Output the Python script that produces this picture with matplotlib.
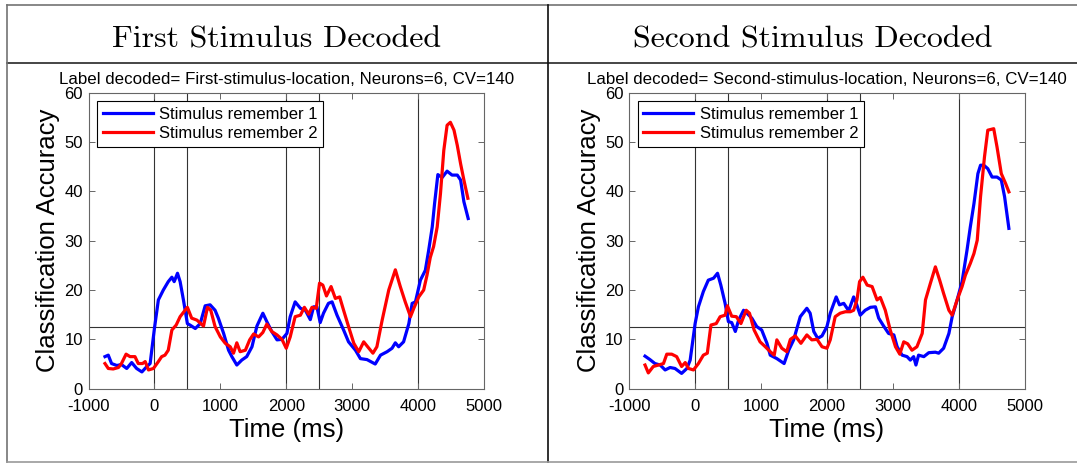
import matplotlib
matplotlib.use('Agg')
import matplotlib.pyplot as plt
from matplotlib.lines import Line2D

# --- data (time in ms, accuracy in %) ---
headers = ['First Stimulus Decoded', 'Second Stimulus Decoded']
subtitles = ['Label decoded= First-stimulus-location, Neurons=6, CV=140',
             'Label decoded= Second-stimulus-location, Neurons=6, CV=140']
series_labels = ['Stimulus remember 1', 'Stimulus remember 2']
event_times = [0, 500, 2000, 2500, 4000]
chance_level = 12.5

t_first_s1 = [-750, -700, -650, -570, -500, -420, -345, -270, -190, -115, -65, 0, 60, 135, 210, 265, 300, 350, 390,
              440, 500, 540, 620, 695, 770, 845, 920, 970, 1050, 1125, 1175, 1250, 1325, 1400, 1480, 1555, 1645,
              1705, 1780, 1860, 1935, 2010, 2060, 2135, 2215, 2290, 2365, 2415, 2465, 2515, 2565, 2640, 2695, 2770,
              2870, 2945, 3050, 3125, 3225, 3350, 3430, 3530, 3605, 3655, 3705, 3780, 3860, 3910, 3960, 4035, 4110,
              4160, 4215, 4250, 4300, 4365, 4440, 4515, 4595, 4645, 4695, 4760]
acc_first_s1 = [6.5, 6.8, 5.1, 4.7, 4.9, 4.1, 5.3, 4.1, 3.4, 4.5, 5.1, 12.2, 18, 20, 21.7, 22.6, 21.7, 23.4, 21.7,
                18, 13.2, 12.9, 12.2, 13.2, 16.8, 17, 15.9, 14.3, 11.2, 7.8, 6.5, 4.8, 5.8, 6.5, 8.5, 12.7, 15.3,
                13.6, 11.6, 9.9, 10, 11.2, 14.6, 17.6, 16.3, 15.9, 14, 16.6, 16.6, 13.4, 15.3, 17.3, 17.6, 14.9,
                11.9, 9.5, 7.8, 6.1, 5.9, 5, 6.8, 7.5, 8.2, 9.3, 8.5, 9.5, 13.2, 17.3, 17.6, 22, 24,
                28, 32.8, 37.5, 43.4, 42.8, 44.1, 43.3, 43.3, 42.3, 37.9, 34.5]

t_first_s2 = [-750, -700, -625, -545, -500, -430, -370, -295, -245, -180, -140, -90, -15, 60, 110, 160, 210, 265, 330,
              390, 465, 500, 565, 645, 745, 805, 855, 920, 1000, 1075, 1150, 1200, 1250, 1300, 1380, 1445, 1505,
              1580, 1645, 1705, 1780, 1860, 1935, 2000, 2060, 2135, 2215, 2275, 2340, 2390, 2455, 2505, 2555, 2610,
              2680, 2745, 2810, 2870, 2945, 3025, 3100, 3175, 3235, 3315, 3375, 3455, 3555, 3655, 3730, 3805, 3885,
              3935, 4010, 4085, 4135, 4185, 4235, 4290, 4340, 4390, 4440, 4490, 4545, 4595, 4645, 4695, 4755]
acc_first_s2 = [5.1, 4.1, 4, 4.3, 5.1, 7, 6.5, 6.5, 5.1, 5.1, 5.5, 3.8, 4.1, 5.5, 6.5, 6.8, 7.8, 11.9, 12.9,
                14.6, 15.9, 16.5, 14.3, 13.9, 12.7, 16.5, 15.9, 12.6, 10.5, 9.2, 8.5, 7.2, 9.3, 7.5, 7.8, 9.9, 11.1,
                10.5, 11.4, 13.1, 11.6, 10.9, 10, 8.2, 10.5, 14.6, 14.9, 16.5, 15.1, 16.5, 16.3, 21.4, 21, 18.8,
                20.7, 18.3, 18.6, 15.9, 12.6, 9.2, 7.5, 9.5, 8.5, 7.2, 8.5, 13.9, 20, 24.1, 20.7, 17.6, 14.6,
                16.3, 18.6, 20, 23, 26.6, 28.8, 32.8, 39.6, 48.3, 53.4, 54, 52.4, 49.3, 45.6, 42.3, 38.6]

t_second_s1 = [-760, -685, -610, -530, -455, -380, -305, -205, -125, -75, 0, 50, 125, 200, 280, 340, 390, 455, 505,
               555, 610, 660, 735, 785, 860, 935, 1010, 1090, 1140, 1240, 1350, 1420, 1495, 1595, 1695, 1745, 1800,
               1860, 1925, 2000, 2050, 2140, 2190, 2255, 2330, 2405, 2445, 2505, 2580, 2660, 2735, 2785, 2860, 2935,
               3015, 3065, 3140, 3215, 3265, 3315, 3350, 3390, 3470, 3545, 3645, 3695, 3770, 3850, 3900, 3975, 4050,
               4125, 4175, 4230, 4290, 4330, 4380, 4440, 4505, 4580, 4645, 4695, 4760]
acc_second_s1 = [6.6, 5.9, 5.1, 4.8, 3.8, 4.3, 4.1, 3.1, 4.1, 5.8, 13.2, 16.6, 19.7, 22, 22.4, 23.4, 21, 17.3, 13.6,
                 13.4, 11.6, 13.9, 15.9, 15.3, 14.3, 12.6, 11.9, 9.2, 6.8, 6.1, 5.1, 7.8, 9.9, 14.6, 16.3, 15.3, 11.6,
                 10.2, 10.7, 12.6, 15.3, 18.6, 17, 17.3, 15.8, 18.6, 17.3, 14.9, 15.9, 16.5, 16.6, 14.3, 12.7, 11.2,
                 10.9, 8.5, 6.8, 6.5, 5.8, 6.5, 4.8, 6.8, 6.5, 7.3, 7.4, 7.2, 8.2, 11.2, 14.6, 18, 21.7,
                 28.1, 32.8, 37.5, 43.6, 45.3, 45.3, 44.6, 42.9, 42.9, 42.3, 38.9, 32.5]

t_second_s2 = [-760, -710, -635, -555, -480, -430, -355, -280, -205, -150, -100, -25, 50, 125, 185, 240, 320, 380,
               455, 490, 555, 625, 695, 775, 825, 895, 985, 1065, 1140, 1200, 1240, 1315, 1390, 1445, 1520, 1605,
               1695, 1770, 1850, 1925, 2000, 2050, 2125, 2200, 2280, 2355, 2405, 2455, 2495, 2545, 2610, 2685, 2760,
               2810, 2885, 2960, 3040, 3105, 3165, 3225, 3290, 3365, 3445, 3495, 3570, 3645, 3710, 3770, 3850, 3900,
               3975, 4050, 4100, 4175, 4230, 4280, 4330, 4390, 4440, 4530, 4580, 4645, 4710, 4760]
acc_second_s2 = [4.8, 3.2, 4.5, 4.8, 5.1, 7, 7, 6.5, 4.5, 5.3, 4.1, 3.8, 5.1, 6.8, 7.2, 12.9, 13.2, 14.6,
                 14.9, 16.8, 14.7, 14.6, 13.2, 15.9, 15.3, 11.9, 9.5, 8.5, 7.5, 6.8, 9.9, 8.2, 7.5, 10, 10.7, 9.2,
                 10.9, 9.9, 10, 8.5, 8.2, 9.9, 14.6, 15.3, 15.6, 15.6, 15.9, 18, 21.7, 22.6, 21, 20.7, 18,
                 18.5, 15.9, 11.9, 8.5, 7, 9.5, 9.1, 7.8, 8.5, 11.2, 18, 21.4, 24.7, 22, 19.3, 15.9, 14.9,
                 18, 20.7, 23, 25.4, 27.4, 30.1, 38.9, 47, 52.4, 52.7, 49, 43.6, 41.6, 39.9]

panels = [
    [(t_first_s1, acc_first_s1), (t_first_s2, acc_first_s2)],
    [(t_second_s1, acc_second_s1), (t_second_s2, acc_second_s2)],
]
line_colors = ['#0000ff', '#ff0000']

plt.rcParams['font.family'] = ['Liberation Sans', 'DejaVu Sans']
plt.rcParams['axes.unicode_minus'] = False

W, H = 1077, 463
fig = plt.figure(figsize=(W / 100, H / 100), dpi=100)

# table frame around the two cells (pixel coords of the reference)
frame = [
    ((6.7, 5), (1077, 5), '0.45'),
    ((6.7, 62.7), (1077, 62.7), '0.15'),
    ((6.7, 5), (6.7, 461.7), '0.45'),
    ((547.7, 5), (547.7, 461.7), '0.05'),
    ((6.7, 461.7), (1077, 461.7), '0.6'),
]
for (x0, y0), (x1, y1), c in frame:
    fig.add_artist(Line2D([x0 / W, x1 / W], [1 - y0 / H, 1 - y1 / H],
                          transform=fig.transFigure, color=c, lw=1.2))

header_x = [277, 813]
axes_left = [88.5, 629.2]
ax_w = 395.5
ax_top, ax_bottom = 92.7, 388.7

for i, series in enumerate(panels):
    fig.text(header_x[i] / W, 1 - 47 / H, headers[i], family='cmr10',
             fontsize=23, ha='center', va='baseline')

    ax = fig.add_axes([axes_left[i] / W, 1 - ax_bottom / H, ax_w / W, (ax_bottom - ax_top) / H])
    for t in event_times:
        ax.axvline(t, color='0.2', lw=0.8, zorder=1)
    ax.axhline(chance_level, color='0.2', lw=0.8, zorder=1)

    for (t, acc), c, lab in zip(series, line_colors, series_labels):
        ax.plot(t, acc, color=c, lw=2.3, label=lab, zorder=3)

    ax.set_xlim(-1000, 5000)
    ax.set_ylim(0, 60)
    ax.set_xticks(range(-1000, 5001, 1000))
    ax.set_yticks(range(0, 61, 10))
    ax.tick_params(direction='in', top=True, right=True, length=4, width=0.7,
                   color='0.4', labelsize=12)
    ax.tick_params(axis='x', pad=7.5)
    ax.tick_params(axis='y', pad=4)
    for sp in ax.spines.values():
        sp.set_color('0.4')
        sp.set_linewidth(0.8)

    ax.set_title(subtitles[i], fontsize=12.2, pad=6)
    ax.set_xlabel('Time (ms)', fontsize=18.5, labelpad=3)
    ax.set_ylabel('Classification Accuracy', fontsize=18.5, labelpad=3)

    leg = ax.legend(loc='upper left', bbox_to_anchor=(0, 1), borderaxespad=0.5,
                    fontsize=12, handlelength=3.0, handletextpad=0.37,
                    borderpad=0.35, labelspacing=0.25, fancybox=False,
                    framealpha=1, edgecolor='k')
    leg.get_frame().set_linewidth(0.8)

fig.savefig('out.png', dpi=100, facecolor='white')
